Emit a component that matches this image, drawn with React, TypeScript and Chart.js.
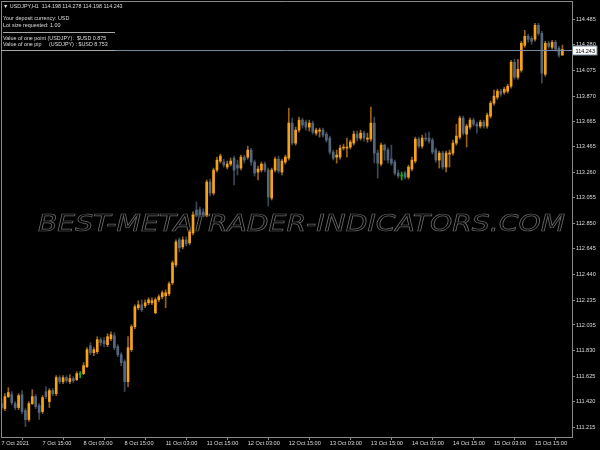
import React, { useEffect, useRef } from 'react';
import { Chart, registerables } from 'chart.js';

Chart.register(...registerables);

const OPEN = [
  111.405, 111.365, 111.461, 111.477, 111.405, 111.373, 111.477, 111.349, 111.277, 111.405,
  111.461, 111.389, 111.341, 111.501, 111.421, 111.509, 111.485, 111.613, 111.581, 111.613,
  111.581, 111.605, 111.597, 111.637, 111.645, 111.701, 111.869, 111.813, 111.821, 111.917,
  111.909, 111.877, 111.925, 111.949, 111.861, 111.797, 111.741, 111.581, 111.837, 112.021,
  112.173, 112.197, 112.189, 112.213, 112.213, 112.133, 112.237, 112.261, 112.269, 112.285,
  112.373, 112.517, 112.717, 112.661, 112.717, 112.693, 112.773, 112.957, 112.957, 112.941,
  112.917, 113.181, 113.093, 113.277, 113.349, 113.341, 113.301, 113.325, 113.373, 113.317,
  113.293, 113.381, 113.381, 113.437, 113.341, 113.261, 113.277, 113.325, 113.277, 113.053,
  113.277, 113.365, 113.261, 113.341, 113.373, 113.653, 113.493, 113.597, 113.677, 113.661,
  113.621, 113.653, 113.573, 113.589, 113.597, 113.565, 113.533, 113.421, 113.381, 113.381,
  113.453, 113.453, 113.461, 113.493, 113.565, 113.533, 113.573, 113.525, 113.525, 113.653,
  113.413, 113.325, 113.477, 113.437, 113.365, 113.341, 113.253, 113.229, 113.253, 113.221,
  113.285, 113.349, 113.525, 113.469, 113.533, 113.533, 113.517, 113.437, 113.357, 113.413,
  113.301, 113.405, 113.413, 113.493, 113.541, 113.693, 113.565, 113.621, 113.677, 113.645,
  113.629, 113.661, 113.629, 113.709, 113.813, 113.861, 113.909, 113.901, 113.909, 113.949,
  114.141, 114.021, 114.077, 114.277, 114.349, 114.333, 114.325, 114.437, 114.373, 114.045,
  114.293, 114.261, 114.301, 114.253, 114.198,
];

const HIGH = [
  111.437, 111.485, 111.533, 111.501, 111.421, 111.485, 111.509, 111.365, 111.421, 111.517,
  111.477, 111.405, 111.469, 111.541, 111.525, 111.525, 111.629, 111.629, 111.629, 111.629,
  111.637, 111.621, 111.661, 111.661, 111.733, 111.853, 111.893, 111.853, 111.941, 111.933,
  111.933, 111.965, 111.981, 111.973, 111.877, 111.813, 111.757, 111.941, 112.037, 112.197,
  112.229, 112.237, 112.237, 112.253, 112.253, 112.253, 112.277, 112.309, 112.317, 112.381,
  112.549, 112.717, 112.733, 112.741, 112.741, 112.797, 112.941, 113.021, 112.981, 112.965,
  113.197, 113.205, 113.293, 113.381, 113.405, 113.365, 113.349, 113.373, 113.389, 113.357,
  113.397, 113.397, 113.469, 113.453, 113.357, 113.309, 113.341, 113.341, 113.293, 113.293,
  113.381, 113.389, 113.365, 113.397, 113.773, 113.693, 113.621, 113.701, 113.693, 113.677,
  113.677, 113.669, 113.613, 113.613, 113.613, 113.581, 113.549, 113.437, 113.437, 113.477,
  113.485, 113.533, 113.517, 113.589, 113.589, 113.597, 113.589, 113.573, 113.781, 113.701,
  113.437, 113.493, 113.485, 113.453, 113.477, 113.357, 113.277, 113.261, 113.269, 113.317,
  113.381, 113.541, 113.541, 113.557, 113.573, 113.581, 113.533, 113.453, 113.429, 113.429,
  113.429, 113.437, 113.517, 113.645, 113.709, 113.709, 113.645, 113.693, 113.693, 113.661,
  113.677, 113.677, 113.733, 113.829, 113.917, 113.925, 113.925, 113.941, 113.965, 114.157,
  114.165, 114.165, 114.309, 114.397, 114.365, 114.349, 114.453, 114.453, 114.389, 114.309,
  114.309, 114.317, 114.317, 114.269, 114.278,
];

const LOW = [
  111.357, 111.349, 111.453, 111.397, 111.357, 111.357, 111.325, 111.221, 111.261, 111.397,
  111.365, 111.277, 111.325, 111.445, 111.373, 111.469, 111.469, 111.565, 111.565, 111.573,
  111.565, 111.573, 111.589, 111.613, 111.637, 111.693, 111.797, 111.789, 111.805, 111.869,
  111.861, 111.861, 111.909, 111.837, 111.781, 111.709, 111.501, 111.541, 111.821, 112.005,
  112.157, 112.141, 112.173, 112.197, 112.197, 112.125, 112.221, 112.245, 112.173, 112.269,
  112.357, 112.501, 112.621, 112.645, 112.669, 112.677, 112.757, 112.901, 112.901, 112.901,
  112.901, 113.069, 113.077, 113.261, 113.333, 113.301, 113.285, 113.309, 113.157, 113.237,
  113.277, 113.333, 113.365, 113.317, 113.229, 113.197, 113.261, 113.261, 112.989, 113.037,
  113.261, 113.253, 113.237, 113.325, 113.357, 113.477, 113.477, 113.581, 113.613, 113.597,
  113.589, 113.565, 113.557, 113.541, 113.541, 113.501, 113.405, 113.357, 113.333, 113.365,
  113.437, 113.381, 113.445, 113.477, 113.509, 113.517, 113.509, 113.501, 113.509, 113.333,
  113.213, 113.309, 113.357, 113.333, 113.317, 113.237, 113.213, 113.197, 113.205, 113.205,
  113.269, 113.333, 113.453, 113.453, 113.509, 113.493, 113.405, 113.341, 113.293, 113.285,
  113.261, 113.301, 113.397, 113.477, 113.525, 113.557, 113.461, 113.605, 113.629, 113.573,
  113.613, 113.613, 113.613, 113.693, 113.797, 113.845, 113.869, 113.885, 113.893, 113.933,
  114.005, 114.005, 114.061, 114.261, 114.301, 114.285, 114.309, 114.357, 113.973, 114.029,
  114.253, 114.245, 114.229, 114.181, 114.198,
];

const CLOSE = [
  111.373, 111.461, 111.493, 111.413, 111.373, 111.469, 111.341, 111.277, 111.405, 111.461,
  111.381, 111.333, 111.453, 111.461, 111.509, 111.485, 111.613, 111.581, 111.613, 111.589,
  111.605, 111.589, 111.645, 111.637, 111.709, 111.837, 111.813, 111.837, 111.917, 111.893,
  111.885, 111.941, 111.957, 111.853, 111.797, 111.733, 111.581, 111.853, 112.021, 112.181,
  112.197, 112.157, 112.213, 112.237, 112.229, 112.237, 112.261, 112.293, 112.293, 112.365,
  112.533, 112.701, 112.653, 112.717, 112.685, 112.781, 112.917, 112.917, 112.917, 112.917,
  113.181, 113.093, 113.277, 113.357, 113.389, 113.317, 113.325, 113.349, 113.277, 113.293,
  113.381, 113.357, 113.437, 113.341, 113.253, 113.285, 113.325, 113.277, 113.061, 113.277,
  113.365, 113.269, 113.349, 113.381, 113.653, 113.493, 113.597, 113.677, 113.637, 113.621,
  113.653, 113.581, 113.597, 113.597, 113.557, 113.517, 113.421, 113.373, 113.397, 113.453,
  113.461, 113.461, 113.501, 113.565, 113.533, 113.573, 113.533, 113.533, 113.653, 113.413,
  113.333, 113.477, 113.437, 113.357, 113.333, 113.253, 113.229, 113.229, 113.221, 113.301,
  113.357, 113.525, 113.469, 113.533, 113.525, 113.509, 113.421, 113.357, 113.413, 113.301,
  113.413, 113.413, 113.493, 113.549, 113.693, 113.573, 113.629, 113.677, 113.645, 113.629,
  113.661, 113.629, 113.717, 113.813, 113.869, 113.909, 113.885, 113.925, 113.949, 114.141,
  114.021, 114.085, 114.293, 114.349, 114.325, 114.309, 114.437, 114.373, 114.053, 114.293,
  114.269, 114.301, 114.245, 114.197, 114.243,
];

const X_TICK_INDEX = [0, 12, 24, 36, 48, 60, 72, 84, 96, 108, 120, 132, 144, 156];
const X_TICK_LABELS = [
  '7 Oct 2021', '7 Oct 15:00', '8 Oct 03:00', '8 Oct 15:00', '11 Oct 03:00', '11 Oct 15:00',
  '12 Oct 03:00', '12 Oct 15:00', '13 Oct 03:00', '13 Oct 15:00', '14 Oct 03:00', '14 Oct 15:00',
  '15 Oct 03:00', '15 Oct 15:00',
];
const Y_TICKS = [
  114.485, 114.28, 114.075, 113.87, 113.665, 113.465, 113.26, 113.055, 112.85, 112.645,
  112.44, 112.235, 112.035, 111.83, 111.625, 111.42, 111.215,
];
const BID = 114.243;
const SYMBOL_LINE = '\u25BC USDJPY,H1  114.198 114.278 114.198 114.243';
const INFO_LINES_1 = ['Your deposit currency: USD', 'Lot size requested: 1.00'];
const INFO_LINES_2 = ['Value of one point (USDJPY):  $USD 0.875', 'Value of one pip     (USDJPY) : $USD 8.753'];
const WATERMARK = 'BEST-METATRADER-INDICATORS.COM';

const UP = '#F5A31C';
const DOWN = '#55677C';
const DOJI = '#10B010';
const UP_WICK = '#9A6212';
const DOWN_WICK = '#3A4858';
const AXIS = '#8a8a8a';
const TEXT = '#dcdcdc';
const FONT = 'Liberation Sans';

export default function App() {
  const ref = useRef<HTMLCanvasElement | null>(null);

  useEffect(() => {
    document.body.style.margin = '0';
    document.body.style.background = '#000';
    const canvas = ref.current;
    if (!canvas) return;
    const idx = OPEN.map((_, i) => i);
    const bodyColor = (i: number) => (CLOSE[i] > OPEN[i] ? UP : CLOSE[i] < OPEN[i] ? DOWN : DOJI);
    const wickColor = (i: number) => (CLOSE[i] > OPEN[i] ? UP_WICK : CLOSE[i] < OPEN[i] ? DOWN_WICK : DOJI);

    const decor = {
      id: 'mtDecor',
      beforeDraw(chart: any) {
        const ctx = chart.ctx;
        ctx.save();
        ctx.fillStyle = '#000';
        ctx.fillRect(0, 0, chart.width, chart.height);
        ctx.restore();
      },
      beforeDatasetsDraw(chart: any) {
        const ctx = chart.ctx;
        ctx.save();
        ctx.font = `italic 23px "DejaVu Sans"`;
        const w = ctx.measureText(WATERMARK).width;
        ctx.translate(38, 231);
        ctx.scale(527 / w, 1);
        ctx.strokeStyle = 'rgba(140,140,140,0.75)';
        ctx.lineWidth = 0.7;
        ctx.strokeText(WATERMARK, 0, 0);
        ctx.restore();
      },
      afterDraw(chart: any) {
        const ctx = chart.ctx;
        const area = chart.chartArea;
        const yScale = chart.scales.y;
        const by = Math.round(yScale.getPixelForValue(BID)) + 0.5;
        ctx.save();
        ctx.strokeStyle = AXIS;
        ctx.lineWidth = 1;
        ctx.beginPath();
        ctx.moveTo(area.left + 0.5, area.top);
        ctx.lineTo(area.left + 0.5, area.bottom);
        ctx.moveTo(area.left, area.top + 0.5);
        ctx.lineTo(area.right, area.top + 0.5);
        ctx.stroke();
        ctx.strokeStyle = '#778899';
        ctx.beginPath();
        ctx.moveTo(area.left, by);
        ctx.lineTo(area.right, by);
        ctx.stroke();
        ctx.strokeStyle = '#a8a8a8';
        ctx.beginPath();
        ctx.moveTo(3, 32.5);
        ctx.lineTo(115, 32.5);
        ctx.moveTo(1, 50.5);
        ctx.lineTo(115, 50.5);
        ctx.stroke();
        ctx.fillStyle = TEXT;
        ctx.textBaseline = 'middle';
        ctx.textAlign = 'left';
        ctx.font = `5.4px "${FONT}"`;
        ctx.fillText(SYMBOL_LINE, 3, 6.5);
        ctx.fillText(INFO_LINES_1[0], 3, 19);
        ctx.fillText(INFO_LINES_1[1], 3, 25.5);
        ctx.fillText(INFO_LINES_2[0], 3, 38.5);
        ctx.fillText(INFO_LINES_2[1], 3, 44.5);
        ctx.fillStyle = '#ffffff';
        ctx.fillRect(area.right + 1, by - 4.5, 24, 9);
        ctx.strokeStyle = '#778899';
        ctx.strokeRect(area.right + 0.5, by - 4.5, 24.5, 9);
        ctx.fillStyle = '#000';
        ctx.font = `5.5px "${FONT}"`;
        ctx.fillText(BID.toFixed(3), area.right + 3.5, by + 0.5);
        ctx.restore();
      },
    };

    const chart = new Chart(canvas, {
      type: 'bar',
      data: {
        datasets: [
          {
            label: 'wick',
            data: idx.map((i) => ({ x: i, y: [LOW[i], HIGH[i]] })) as any,
            backgroundColor: idx.map(wickColor),
            barThickness: 1,
            grouped: false,
            borderWidth: 0,
            order: 2,
          } as any,
          {
            label: 'body',
            data: idx.map((i) => ({ x: i, y: [OPEN[i], CLOSE[i]] })) as any,
            backgroundColor: idx.map(bodyColor),
            barThickness: 2,
            minBarLength: 1,
            grouped: false,
            borderWidth: 0,
            order: 1,
          } as any,
        ],
      },
      options: {
        responsive: false,
        animation: false,
        events: [],
        layout: { padding: { top: 1, left: 1, right: 0, bottom: 0 } },
        plugins: { legend: { display: false }, tooltip: { enabled: false } },
        scales: {
          x: {
            type: 'linear',
            min: -0.146,
            max: 166.81,
            offset: false,
            grid: { display: true, drawOnChartArea: false, drawTicks: true, tickLength: 3, color: AXIS },
            border: { display: true, color: AXIS },
            ticks: {
              autoSkip: false,
              maxRotation: 0,
              minRotation: 0,
              align: 'start',
              padding: 0,
              color: TEXT,
              font: { family: FONT, size: 5.6 },
              callback: (v: any) => {
                const k = X_TICK_INDEX.indexOf(Number(v));
                return k >= 0 ? X_TICK_LABELS[k] : '';
              },
            },
            afterBuildTicks: (s: any) => {
              s.ticks = X_TICK_INDEX.map((v) => ({ value: v }));
            },
            afterFit: (s: any) => {
              s.height = 13;
              s.paddingLeft = 0;
              s.paddingRight = 0;
            },
          },
          y: {
            type: 'linear',
            position: 'right',
            min: 111.137,
            max: 114.632,
            grid: { display: true, drawOnChartArea: false, drawTicks: true, tickLength: 3, color: AXIS },
            border: { display: true, color: AXIS },
            ticks: {
              padding: 1,
              color: TEXT,
              font: { family: FONT, size: 5.6 },
              callback: (v: any) => Number(v).toFixed(3),
            },
            afterBuildTicks: (s: any) => {
              s.ticks = Y_TICKS.map((v) => ({ value: v }));
            },
            afterFit: (s: any) => {
              s.width = 28;
              s.paddingTop = 0;
              s.paddingBottom = 0;
            },
          },
        },
      } as any,
      plugins: [decor],
    });
    return () => chart.destroy();
  }, []);

  return (
    <div style={{ position: 'fixed', left: 0, top: 0, width: 600, height: 450, background: '#000' }}>
      <canvas ref={ref} width={600} height={450} style={{ display: 'block', width: 600, height: 450 }} />
    </div>
  );
}
